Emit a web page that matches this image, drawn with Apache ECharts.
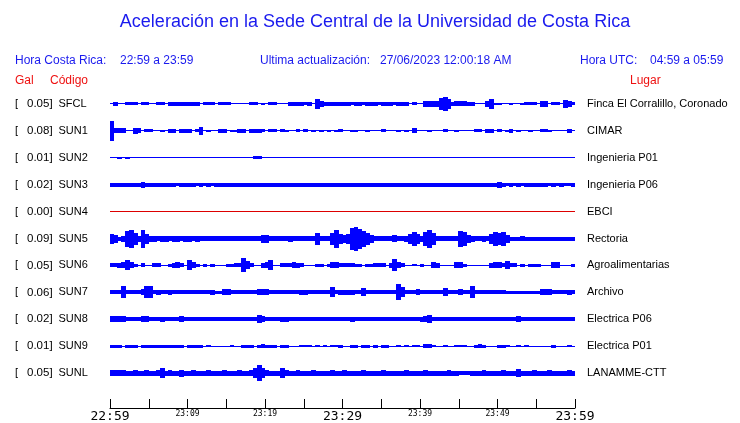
<!DOCTYPE html>
<html><head><meta charset="utf-8">
<script src="https://cdn.jsdelivr.net/npm/echarts@6/dist/echarts.min.js"></script>
<style>html,body{margin:0;padding:0;background:#fff}#c{width:740px;height:423px}</style>
</head><body><div id="c"></div><script>
// ---- data ----
const codes = ['SFCL','SUN1','SUN2','SUN3','SUN4','SUN5','SUN6','SUN7','SUN8','SUN9','SUNL'];
const gal = [0.05,0.08,0.01,0.02,0.00,0.09,0.05,0.06,0.02,0.01,0.05];
const places = ['Finca El Corralillo, Coronado','CIMAR','Ingenieria P01','Ingenieria P06','EBCI','Rectoria','Agroalimentarias','Archivo','Electrica P06','Electrica P01','LANAMME-CTT'];
// envelope amplitude of each trace, one value per half minute (22:59 -> 23:59)
const SFCL = [0,2,0,0,1.5,1.5,1.5,0,1.5,1.5, 0,0,1.5,1.5,0,2,2,2,2,2, 2,2,2,0,1.5,1.5,1.5,0,1.5,1.5, 1.5,0,0,0,0,0,1.5,1.5,0,1, 0,1.5,1.5,0,0,0,2,2,2,2, 1.5,2,0,5,3,2,2,2,2,2, 2,2,1.5,2,2,1.5,2,2,2,1.5, 2,2,2,1.5,2,2,2,0,1.5,0, 0,3,3,3,3,6,7,5,2,2.5, 2.5,2.5,2,2,0,0,0,3,5,1, 1,0,0,1,0,0,1,1.5,1.5,1.5, 0,3,3,0,1.5,1.5,0,4,3,1.5];
const SUN1 = [10,2.5,2.5,2.5,0,0,3,2.5,0,1.5, 1.5,0,0,1,0,2,2,0,2,2, 2,0,1.5,4,0,1,0,0,2,2, 0,1,1,2,2,0,2,2,2,1.5, 0,1.5,1.5,0,1.5,1,0,0,1.5,0, 1.5,0,1,0,1,0,1,0,1,1.5, 0,0,1,1,0,0,1,0,0,0, 1.5,0,0,0,1,0,1,0,2.5,0, 0,0,1,0,0,0,1.5,0,0,1, 0,0,0,0,1.5,1.5,0,2,2,0, 1.5,0,1,2,0,1,0,0,1,0, 0,1.5,1.5,1,0,0,0,0,2,0];
const SUN2 = [0,0,1,0,1,0,0,0,0,0, 0,0,0,0,0,0,0,0,0,0, 0,0,0,0,0,0,0,0,0,0, 0,0,0,0,0,0,0,1.5,1.5,0, 0,0,0,0,0,0,0,0,0,0, 0,0,0,0,0,0,0,0,0,0, 0,0,0,0,0,0,0,0,0,0, 0,0,0,0,0,0,0,0,0,0, 0,0,0,0,0,0,0,0,0,0, 0,0,0,0,0,0,0,0,0,0, 0,0,0,0,0,0,0,0,0,0, 0,0,0,0,0,0,0,0,0,0];
const SUN3 = [2,2,2,2,2,2,2,2,3,2, 2,2,2,2,2,2,2,1.5,2,2, 2,2,1.5,2,1.5,2,1.5,2,2,2, 2,2,2,2,2,2,2,2,2,2, 2,2,2,2,2,2,2,2,2,2, 2,2,2,2,2,2,2,2,2,2, 2,2,2,2,2,2,2,2,2,2, 2,2,2,2,2,2,2,2,2,2, 2,2,2,2,2,2,2,2,2,2, 2,2,2,2,2,2,2,2,2,2, 3,2,1.5,2,1.5,2,1.5,2,2,2, 2,2,2,1.5,2,1.5,2,1.5,1.5,2];
const SUN4 = [0,0,0,0,0,0,0,0,0,0, 0,0,0,0,0,0,0,0,0,0, 0,0,0,0,0,0,0,0,0,0, 0,0,0,0,0,0,0,0,0,0, 0,0,0,0,0,0,0,0,0,0, 0,0,0,0,0,0,0,0,0,0, 0,0,0,0,0,0,0,0,0,0, 0,0,0,0,0,0,0,0,0,0, 0,0,0,0,0,0,0,0,0,0, 0,0,0,0,0,0,0,0,0,0, 0,0,0,0,0,0,0,0,0,0, 0,0,0,0,0,0,0,0,0,0];
const SUN5 = [5,4,2,3,8,9,6,3,9,5, 3,3,2.5,3,3,2.5,3,3,2.5,3, 3,2.5,3,2.5,2.5,2.5,2.5,2.5,2.5,2.5, 2.5,2.5,2.5,2.5,2.5,2.5,2.5,2.5,2.5,4, 4,2.5,2.5,2.5,2.5,2.5,3,2.5,2.5,2.5, 2.5,2.5,2.5,6,2.5,2.5,2.5,6,9,5, 4,5,11,12,10,8,6,4,2.5,2.5, 2.5,2.5,2.5,3.5,2.5,2.5,3,5,7,5, 3,7,9,6,2.5,2.5,2.5,2.5,2.5,2.5, 8,7,4,3,2.5,2.5,3,2.5,5,7, 6,7,4,2,2,2,2.5,2,2,2, 2,2,2,2,2,2,2,2,2,2];
const SUN6 = [2,2,2.5,3,5,3,1.5,0,2,0, 0,2,2,0,0,1.5,2.5,3,2,0, 5,3,1.5,0,1.5,0,1.5,0,0,0, 1.5,1.5,2,2,7,4,2,0,0,2.5, 3,5,0,0,2,2,2,3,2.5,2, 0,0,0,1.5,1.5,0,1.5,3,3,2, 2,2,2,1.5,1.5,0,1.5,1.5,2,2, 2,0,2.5,6,3,2,0,0,1,0, 1.5,0,0,3,2.5,0,0,0,0,3, 3,1.5,0,0,0,0,0,0,2.5,3, 3,2,4,2,2,0,1.5,0,1.5,1.5, 1.5,0,0,0,3,3,0,0,0,1.5];
const SUN7 = [2,2,2,6,2,2,2,2,3,6, 6,2,2.5,2,2,2.5,2,2,2,2, 2,2,2,2,2,2,2.5,1.5,1.5,3, 3,2,2,2,2,2,2,2,3,3, 3,2,2,2,2,2,2,2,2,2.5, 2.5,2,2,2,2,2,2,5,2,2.5, 2.5,2.5,2.5,2,2,4,2,2,2,2, 2,2,2,2,8,5,2,2,2,3, 2,2,2,2,2,2,4,2,2,2, 3,2,2,6,2,2,2,2,2,2, 2,2,1.5,1.5,1.5,1.5,1.5,1.5,1.5,1.5, 1.5,3,3,3,2,2,2,2,2.5,2];
const SUN8 = [3,3,3,3,2,2,2,2,3,3, 2,2,2,2.5,2,2,2,2,3,2, 2,2,2,2,2,2,2,2,2,2, 2,2,2,2,2,2,2,2,4,3, 2,2,2,2,2.5,2.5,2,2,2,2, 2,2,2,2,2,2,2,2,2,2, 2,2,2.5,2,2,2,2,2,2,2, 2,2,2,2,2,2,2,2,2,2, 2.5,3,4,2,2,2,2,2,2,2, 2,2,2,2,2,2,2,2,2,2, 2,2,2,2,2,3,2,2,2,2, 2,2,2,2,2,2,2,2,2,2];
const SUN9 = [1.5,1.5,1.5,0,1.5,1.5,1.5,0,1.5,1.5, 1.5,1.5,1.5,1.5,1.5,1.5,1.5,1.5,1.5,0, 1.5,1.5,1.5,1.5,0,1,0,0,0,0, 0,1,0,0,1.5,1.5,1.5,0,1.5,2, 1.5,1.5,1.5,0,1.5,1.5,0,0,0,1, 1,1,0,1,0,1,0,1,1,1.5, 0,0,1.5,1.5,0,1.5,1.5,0,1.5,0, 1.5,1.5,0,0,1,0,1,0,1,1, 0,2,2,1,0,0,1,0,0,1, 1,1,0,0,1.5,2,1.5,0,0,0, 1.5,1.5,1,0,0,1,0,1,0,0, 0,0,0,0,1.5,0,0,0,1,0];
const SUNL = [3,3,3,3,2.5,2.5,3,2.5,2.5,3, 2.5,2.5,3,5,2.5,3,2.5,2.5,3.5,2.5, 2.5,3,2.5,2.5,2.5,3,2.5,2.5,2.5,3, 2.5,2.5,2.5,3,2.5,2.5,3,5,8,5, 3,2.5,2.5,2.5,5,3,2.5,2.5,3,2.5, 2.5,2.5,3,2.5,2.5,2.5,2.5,3,2.5,2.5, 3,2.5,2.5,2.5,2.5,3,2.5,2.5,2.5,2.5, 3,2.5,2.5,2.5,2.5,2.5,3,2.5,2.5,2.5, 2.5,3,2.5,2.5,2.5,2.5,2.5,3,2.5,2.5, 2,2,2,2.5,2.5,2.5,3,2.5,2.5,2.5, 2.5,3,2.5,2.5,2.5,4,2.5,2.5,2.5,3, 2.5,2.5,2.5,3,2.5,2.5,2.5,2.5,3,2.5];
const traces = [SFCL,SUN1,SUN2,SUN3,SUN4,SUN5,SUN6,SUN7,SUN8,SUN9,SUNL];
const tickMinutes = [0,10,20,30,40,50,60];
const tickLabels = ['22:59','23:09','23:19','23:29','23:39','23:49','23:59'];
const bigTicks = [0,30,60];

// ---- styling / layout ----
const BIN = 0.5;       // minutes per envelope sample
const GAIN = 1/27;     // display gain (trace spacing = 1)
const traceColors = codes.map(c => c === 'SUN4' ? '#dd0000' : '#0000ff');
const BLUE_TXT = '#1a1aee', RED_TXT = '#ee1111';
const FONT = '"Liberation Sans", Arial, sans-serif';

const data = [];
traces.forEach((arr, i) => arr.forEach((a, k) => data.push([k * BIN, i + 1, a, i])));

function renderItem(params, api) {
  const t = api.value(0), base = api.value(1), amp = api.value(2), idx = api.value(3);
  const p0 = api.coord([t, base]);
  const p1 = api.coord([t + BIN, base]);
  const half = Math.abs(api.size([0, amp * GAIN])[1]);
  const h = Math.max(1, Math.round(2 * half));
  const y = Math.round(p0[1] - h / 2);
  const x0 = Math.floor(p0[0]), x1 = Math.ceil(p1[0]);
  return { type: 'rect', shape: { x: x0, y: y, width: x1 - x0, height: h },
           style: { fill: traceColors[idx] }, silent: true };
}

const yMax = 332 / 27;
const chart = echarts.init(document.getElementById('c'), null, { renderer: 'canvas' });
chart.setOption({
  animation: false,
  backgroundColor: '#fff',
  grid: { left: 110, right: 165, top: 77, bottom: 14, containLabel: false },
  xAxis: {
    type: 'value', min: 0, max: 60, interval: 5,
    axisLine: { show: true, onZero: false, lineStyle: { color: '#000', width: 1 } },
    axisTick: { show: true, inside: true, length: 9, lineStyle: { color: '#000' } },
    splitLine: { show: false },
    axisLabel: {
      margin: 2, showMinLabel: true, showMaxLabel: true, hideOverlap: false,
      formatter: v => {
        const i = tickMinutes.indexOf(Math.round(v));
        if (i < 0 || Math.abs(v - Math.round(v)) > 1e-6) return '';
        return bigTicks.includes(tickMinutes[i]) ? '{big|' + tickLabels[i] + '}' : '{small|' + tickLabels[i] + '}';
      },
      rich: {
        big: { fontSize: 13, fontFamily: '"DejaVu Sans Mono", monospace', color: '#000' },
        small: { fontSize: 8, fontFamily: '"DejaVu Sans Mono", monospace', color: '#000' }
      }
    }
  },
  yAxis: [{
    type: 'value', min: 0, max: yMax, interval: 1, inverse: true, position: 'left',
    axisLine: { show: false }, axisTick: { show: false }, splitLine: { show: false },
    axisLabel: {
      align: 'left', margin: 95, color: '#000',
      formatter: v => {
        const i = Math.round(v) - 1;
        if (Math.abs(v - Math.round(v)) > 1e-6 || i < 0 || i >= codes.length) return '';
        return '{b|[}{n|' + gal[i].toFixed(2) + ']}{c|' + codes[i] + '}';
      },
      rich: {
        b: { width: 12, fontSize: 11, fontFamily: FONT, color: '#000' },
        n: { width: 31.5, fontSize: 11.5, fontFamily: FONT, color: '#000' },
        c: { fontSize: 11, fontFamily: FONT, color: '#000', padding: [0, 0, 0, 0] }
      }
    }
  }, {
    type: 'value', min: 0, max: yMax, interval: 1, inverse: true, position: 'right',
    axisLine: { show: false }, axisTick: { show: false }, splitLine: { show: false },
    axisLabel: {
      align: 'left', margin: 12, color: '#000', fontSize: 11, fontFamily: FONT,
      formatter: v => {
        const i = Math.round(v) - 1;
        if (Math.abs(v - Math.round(v)) > 1e-6 || i < 0 || i >= places.length) return '';
        return places[i];
      }
    }
  }],
  graphic: [
    { type: 'text', x: 375, y: 22, style: { text: 'Aceleración en la Sede Central de la Universidad de Costa Rica', fill: BLUE_TXT, font: '18px ' + FONT, align: 'center', verticalAlign: 'middle' } },
    { type: 'text', x: 15, y: 61, style: { text: 'Hora Costa Rica:', fill: BLUE_TXT, font: '12px ' + FONT, verticalAlign: 'middle' } },
    { type: 'text', x: 120, y: 61, style: { text: '22:59 a 23:59', fill: BLUE_TXT, font: '12px ' + FONT, verticalAlign: 'middle' } },
    { type: 'text', x: 260, y: 61, style: { text: 'Ultima actualización:', fill: BLUE_TXT, font: '12px ' + FONT, verticalAlign: 'middle' } },
    { type: 'text', x: 380, y: 61, style: { text: '27/06/2023 12:00:18 AM', fill: BLUE_TXT, font: '12px ' + FONT, verticalAlign: 'middle' } },
    { type: 'text', x: 580, y: 61, style: { text: 'Hora UTC:', fill: BLUE_TXT, font: '12px ' + FONT, verticalAlign: 'middle' } },
    { type: 'text', x: 650, y: 61, style: { text: '04:59 a 05:59', fill: BLUE_TXT, font: '12px ' + FONT, verticalAlign: 'middle' } },
    { type: 'text', x: 15, y: 81, style: { text: 'Gal', fill: RED_TXT, font: '12px ' + FONT, verticalAlign: 'middle' } },
    { type: 'text', x: 50, y: 81, style: { text: 'Código', fill: RED_TXT, font: '12px ' + FONT, verticalAlign: 'middle' } },
    { type: 'text', x: 630, y: 81, style: { text: 'Lugar', fill: RED_TXT, font: '12px ' + FONT, verticalAlign: 'middle' } }
  ],
  series: [{
    type: 'custom', renderItem: renderItem, data: data,
    encode: { x: 0, y: 1 }, xAxisIndex: 0, yAxisIndex: 0, clip: false
  }]
});
</script></body></html>
